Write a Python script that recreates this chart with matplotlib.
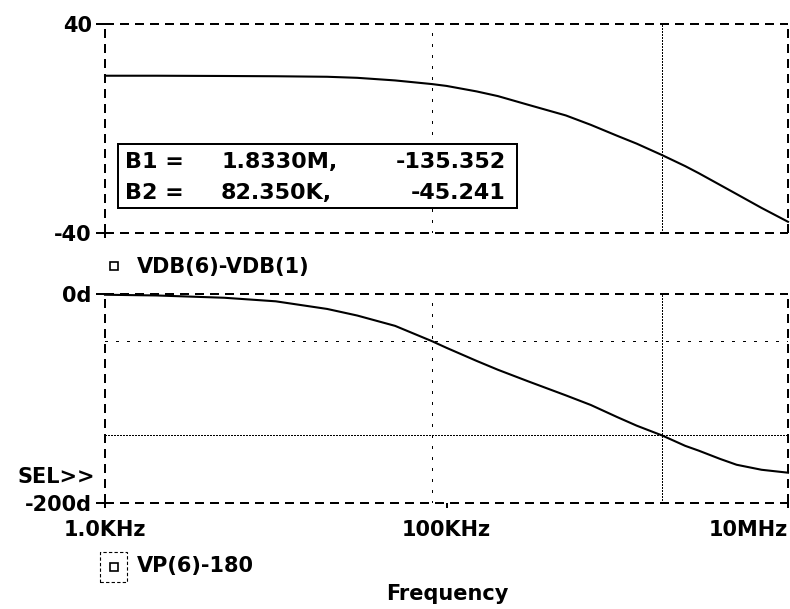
import matplotlib
matplotlib.use("Agg")
import matplotlib.pyplot as plt
from matplotlib.patches import Rectangle
from matplotlib.lines import Line2D
from matplotlib.ticker import NullLocator

# ---------------- data ----------------
freq_hz = [1e3, 2e3, 5e3, 1e4, 2e4, 3e4, 5e4, 8.235e4, 1e5, 1.5e5, 2e5, 3e5,
           5e5, 7e5, 1e6, 1.3e6, 1.833e6, 2.5e6, 3e6, 4e6, 5e6, 7e6, 1e7]
gain_db = [20.2, 20.2, 20.1, 20.0, 19.8, 19.4, 18.4, 17.0, 16.3, 14.2, 12.4, 9.1,
           5.0, 1.4, -2.8, -5.8, -10.2, -14.4, -17.1, -21.6, -25.1, -30.4, -35.7]
phase_deg = [-0.7, -1.4, -3.6, -7.0, -14.3, -20.6, -30.5, -45.2, -51.5, -64.0, -72.5, -83.5,
             -97.0, -106.2, -117.8, -126.0, -135.4, -145.3, -149.9, -157.8, -163.4, -168.2, -171.0]

freq_limits = [1e3, 1e7]
freq_ticks = [1e3, 1e5, 1e7]
freq_tick_labels = ["1.0KHz", "100KHz", "10MHz"]
gain_limits = [-40, 40]
gain_ticks = [40, -40]
gain_tick_labels = ["40", "-40"]
phase_limits = [-200, 0]
phase_ticks = [0, -200]
phase_tick_labels = ["0d", "-200d"]

cursor_names = ["B1", "B2"]
cursor_freqs = [1.8330e6, 82.350e3]
cursor_freq_labels = ["1.8330M", "82.350K"]
cursor_phases = [-135.352, -45.241]

trace_top = "VDB(6)-VDB(1)"
trace_bottom = "VP(6)-180"
x_title = "Frequency"
sel_label = "SEL>>"

# ---------------- layout ----------------
plt.rcParams['font.family'] = ['DejaVu Sans']
plt.rcParams['font.weight'] = 'bold'

W, H = 790, 609
fig = plt.figure(figsize=(W / 100, H / 100), dpi=100)
fig.patch.set_facecolor('white')


def fx(px):
    return px / W


def fy(py):
    return 1 - py / H


LW = 1.44
ax1 = fig.add_axes([fx(105), fy(233), (788 - 105) / W, (233 - 24) / H])
ax2 = fig.add_axes([fx(105), fy(503), (788 - 105) / W, (503 - 294) / H])

for ax in (ax1, ax2):
    ax.set_xscale('log')
    ax.set_xlim(*freq_limits)
    ax.xaxis.set_minor_locator(NullLocator())
    ax.set_facecolor('white')
    for s in ax.spines.values():
        s.set_linewidth(LW)
        s.set_linestyle((0, (4.5, 3.0)))
        s.set_capstyle('butt')

# top panel
ax1.set_ylim(*gain_limits)
ax1.set_yticks(gain_ticks)
ax1.set_yticklabels(gain_tick_labels)
ax1.set_xticks(freq_ticks[:1])
ax1.set_xticklabels([""])
ax1.tick_params(axis='y', length=6.5, width=LW, pad=3, labelsize=15)
ax1.tick_params(axis='x', length=3.6, width=LW)
ax1.plot(freq_hz, gain_db, color='black', lw=1.5, clip_on=False, zorder=4)

# bottom panel
ax2.set_ylim(*phase_limits)
ax2.set_yticks(phase_ticks)
ax2.set_yticklabels(phase_tick_labels)
ax2.set_xticks(freq_ticks)
ax2.set_xticklabels(freq_tick_labels)
ax2.tick_params(axis='y', length=6.5, width=LW, pad=3, labelsize=15)
ax2.tick_params(axis='x', length=3.6, width=LW, pad=9, labelsize=15)
ax2.get_xticklabels()[-1].set_ha('right')
ax2.plot(freq_hz, phase_deg, color='black', lw=1.5, clip_on=False, zorder=4)

# cursor lines: B1 fine dotted, B2 coarse dotted (crisp, non-antialiased dots)
fine = (0, (1.0, 1.0))
coarse = (0, (1.5, 6.0))
styles = [(fine, 1.0), (coarse, 1.0)]
for f, p, (st, lw) in zip(cursor_freqs, cursor_phases, styles):
    for ln in (ax1.axvline(f, color='black', lw=lw, linestyle=st, zorder=2),
               ax2.axvline(f, color='black', lw=lw, linestyle=st, zorder=2),
               ax2.axhline(p, color='black', lw=lw, linestyle=st, zorder=2)):
        ln.set_antialiased(False)

# cursor readout box
fig.add_artist(Rectangle((fx(118), fy(208)), (517 - 118) / W, (208 - 144) / H,
                         transform=fig.transFigure, facecolor='white',
                         edgecolor='black', lw=LW, zorder=10))
row_baselines = [168, 199]
for name, fl, ph, yb in zip(cursor_names, cursor_freq_labels, cursor_phases, row_baselines):
    fig.text(fx(125), fy(yb), f"{name} =", ha='left', va='baseline', fontsize=16, zorder=11)
    fig.text(fx(221), fy(yb), f"{fl},", ha='left', va='baseline', fontsize=16, zorder=11)
    fig.text(fx(506), fy(yb), f"{ph:.3f}", ha='right', va='baseline', fontsize=16, zorder=11)

# trace legends
fig.add_artist(Line2D([fx(114)], [fy(266)], marker='s', markersize=6,
                      markerfacecolor='white', markeredgecolor='black',
                      markeredgewidth=1.2, transform=fig.transFigure))
fig.text(fx(137), fy(273), trace_top, ha='left', va='baseline', fontsize=15)

fig.add_artist(Rectangle((fx(100), fy(582)), 27 / W, 30 / H, transform=fig.transFigure,
                         fill=False, edgecolor='black', lw=0.8, linestyle=(0, (3, 2))))
fig.add_artist(Line2D([fx(114)], [fy(567)], marker='s', markersize=6,
                      markerfacecolor='white', markeredgecolor='black',
                      markeredgewidth=1.2, transform=fig.transFigure))
fig.text(fx(137), fy(572), trace_bottom, ha='left', va='baseline', fontsize=15)

fig.text(fx(95), fy(483), sel_label, ha='right', va='baseline', fontsize=15)
fig.text(fx(447), fy(600), x_title, ha='center', va='baseline', fontsize=15)

fig.savefig("out.png", dpi=100, facecolor='white')
